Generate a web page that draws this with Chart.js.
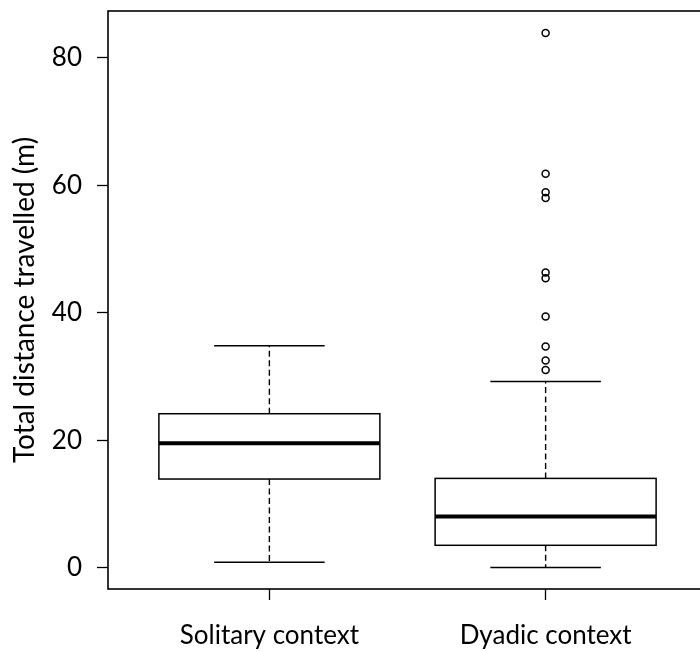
<!DOCTYPE html>
<html>
<head>
    <title>Total distance travelled</title>
    <style>
        body {
            margin: 0;
            overflow: hidden;
            background: #fff;
        }

        #wrap {
            width: 712px;
            height: 652px;
        }
    </style>
    <script src="https://cdn.jsdelivr.net/npm/chart.js"></script>
</head>
<body>
    <div id="wrap"><canvas id="chart"></canvas></div>

    <script>
        // box statistics, one value per group
        const categories = ['Solitary context', 'Dyadic context'];
        const lowerWhisker = [0.85, 0];
        const q1 = [13.9, 3.5];
        const median = [19.5, 8.0];
        const q3 = [24.15, 14.0];
        const upperWhisker = [34.8, 29.2];

        // outliers (only the dyadic group has any)
        const solitaryOutliers = [];
        const dyadicOutliers = [31.0, 32.5, 34.7, 39.4, 45.4, 46.3, 58.0, 58.9, 61.8, 83.9];

        const yTicks = [0, 20, 40, 60, 80];

        const FONT = 'Lato, "Open Sans", sans-serif';
        const boxWidth = 0.8;
        const capWidth = 0.4;

        const outlierPoints = [];
        solitaryOutliers.forEach(v => outlierPoints.push({ x: 1, y: v }));
        dyadicOutliers.forEach(v => outlierPoints.push({ x: 2, y: v }));

        // draws the boxes and whiskers with the chart scales
        const boxPlugin = {
            id: 'boxes',
            beforeDatasetsDraw(chart) {
                const ctx = chart.ctx;
                const xs = chart.scales.x;
                const ys = chart.scales.y;
                ctx.save();
                ctx.strokeStyle = '#000';
                for (let i = 0; i < categories.length; i++) {
                    const pos = i + 1;
                    const cx = xs.getPixelForValue(pos);
                    const bl = xs.getPixelForValue(pos - boxWidth / 2);
                    const br = xs.getPixelForValue(pos + boxWidth / 2);
                    const cl = xs.getPixelForValue(pos - capWidth / 2);
                    const cr = xs.getPixelForValue(pos + capWidth / 2);
                    const yLo = ys.getPixelForValue(lowerWhisker[i]);
                    const yQ1 = ys.getPixelForValue(q1[i]);
                    const yMed = ys.getPixelForValue(median[i]);
                    const yQ3 = ys.getPixelForValue(q3[i]);
                    const yHi = ys.getPixelForValue(upperWhisker[i]);

                    // dashed whiskers
                    ctx.lineWidth = 1.4;
                    ctx.setLineDash([6, 3.5]);
                    ctx.beginPath();
                    ctx.moveTo(cx, yQ3);
                    ctx.lineTo(cx, yHi);
                    ctx.moveTo(cx, yQ1);
                    ctx.lineTo(cx, yLo);
                    ctx.stroke();
                    ctx.setLineDash([]);

                    // caps
                    ctx.lineWidth = 1.5;
                    ctx.beginPath();
                    ctx.moveTo(cl, yHi);
                    ctx.lineTo(cr, yHi);
                    ctx.moveTo(cl, yLo);
                    ctx.lineTo(cr, yLo);
                    ctx.stroke();

                    // box
                    ctx.fillStyle = '#fff';
                    ctx.fillRect(bl, yQ3, br - bl, yQ1 - yQ3);
                    ctx.strokeRect(bl, yQ3, br - bl, yQ1 - yQ3);

                    // median
                    ctx.lineWidth = 4;
                    ctx.beginPath();
                    ctx.moveTo(bl, yMed);
                    ctx.lineTo(br, yMed);
                    ctx.stroke();
                }
                ctx.restore();
            },
            afterDraw(chart) {
                const a = chart.chartArea;
                const ctx = chart.ctx;
                ctx.save();
                ctx.strokeStyle = '#000';
                ctx.lineWidth = 1.6;
                ctx.strokeRect(a.left, a.top, a.right - a.left, a.bottom - a.top);
                ctx.restore();
            }
        };

        new Chart(document.getElementById('chart'), {
            type: 'scatter',
            data: {
                datasets: [{
                    data: outlierPoints,
                    pointRadius: 3.5,
                    pointBorderWidth: 1.5,
                    pointBorderColor: '#000',
                    pointBackgroundColor: 'rgba(0,0,0,0)',
                    pointHoverRadius: 3.5
                }]
            },
            options: {
                responsive: true,
                maintainAspectRatio: false,
                animation: false,
                layout: { padding: { top: 11, right: 2, left: 0, bottom: 0 } },
                plugins: {
                    legend: { display: false },
                    tooltip: { enabled: false }
                },
                scales: {
                    x: {
                        type: 'linear',
                        min: 1 - 0.5842,
                        max: 2 + 0.5842,
                        afterBuildTicks: s => { s.ticks = categories.map((c, i) => ({ value: i + 1 })); },
                        afterFit: s => { s.height = 63; s.paddingLeft = 0; s.paddingRight = 0; },
                        border: { display: false },
                        grid: { drawOnChartArea: false, drawTicks: true, tickLength: 11, tickWidth: 1.3, tickColor: '#000' },
                        ticks: {
                            color: '#000',
                            font: { family: FONT, size: 26 },
                            padding: 20,
                            maxRotation: 0,
                            callback: v => categories[v - 1]
                        }
                    },
                    y: {
                        type: 'linear',
                        min: -3.36,
                        max: 87.36,
                        afterBuildTicks: s => { s.ticks = yTicks.map(v => ({ value: v })); },
                        afterFit: s => { s.width = 108; s.paddingTop = 0; s.paddingBottom = 0; },
                        border: { display: false },
                        grid: { drawOnChartArea: false, drawTicks: true, tickLength: 11, tickWidth: 1.3, tickColor: '#000' },
                        ticks: {
                            color: '#000',
                            font: { family: FONT, size: 26 },
                            padding: 15
                        },
                        title: {
                            display: true,
                            text: 'Total distance travelled (m)',
                            color: '#000',
                            font: { family: FONT, size: 28 },
                            padding: { top: 8, bottom: 0 }
                        }
                    }
                }
            },
            plugins: [boxPlugin]
        });
    </script>
</body>
</html>
